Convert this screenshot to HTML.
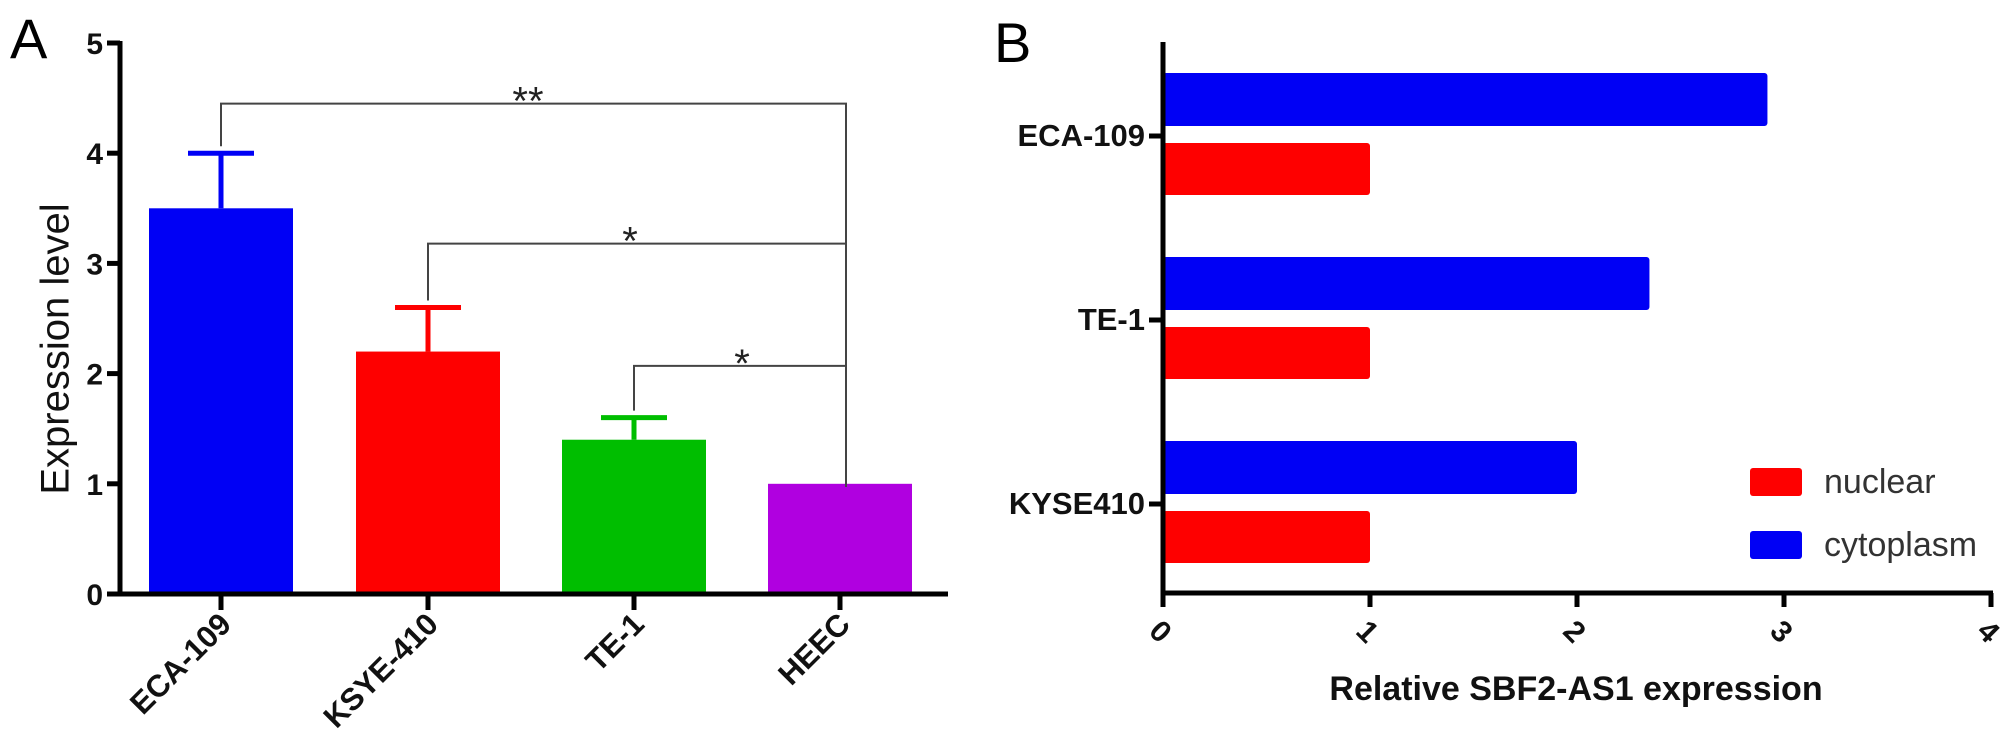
<!DOCTYPE html>
<html><head><meta charset="utf-8"><style>
html,body{margin:0;padding:0;background:#fff;}
svg{display:block;font-family:"Liberation Sans",Arial,sans-serif;}
</style></head><body>
<svg id="fig" width="2008" height="748" viewBox="0 0 2008 748"></svg>
<script>
const aCategories = ["ECA-109","KSYE-410","TE-1","HEEC"];
const aValues = [3.5, 2.2, 1.4, 1.0];
const aErrors = [0.5, 0.4, 0.2, 0];
const aColors = ["#0000f5","#fe0000","#00be00","#b000e0"];
const aTicks = [0,1,2,3,4,5];
const bCategories = ["ECA-109","TE-1","KYSE410"];
const bCytoplasm = [2.92, 2.35, 2.0];
const bNuclear = [1.0, 1.0, 1.0];
const bTicks = [0,1,2,3,4];

const NS="http://www.w3.org/2000/svg";
const svg=document.getElementById('fig');
function mk(tag,attrs,parent){const e=document.createElementNS(NS,tag);for(const k in attrs)e.setAttribute(k,attrs[k]);(parent||svg).appendChild(e);return e;}

// Panel A
const ay0=594, aUnit=110.2, aAxisX=120;
const ay=v=>ay0-v*aUnit;
const aBarX=[149,356,562,768], aBarW=144;
const aCx=i=>aBarX[i]+aBarW/2;

let t=mk('text',{x:10,y:58,'font-size':56});t.textContent='A';



aCategories.forEach((c,i)=>{
  const r=mk('rect',{x:aBarX[i],y:ay(aValues[i]),width:aBarW,height:ay0-ay(aValues[i]),fill:aColors[i]});
  
  
  if(aErrors[i]>0){
    const g=mk('g',{stroke:aColors[i],'stroke-width':5});
    
    
    mk('line',{x1:aCx(i),x2:aCx(i),y1:ay(aValues[i]),y2:ay(aValues[i]+aErrors[i])},g);
    mk('line',{x1:aCx(i)-33,x2:aCx(i)+33,y1:ay(aValues[i]+aErrors[i]),y2:ay(aValues[i]+aErrors[i])},g);
  }
  const tk=mk('line',{x1:aCx(i),x2:aCx(i),y1:ay0,y2:ay0+16,stroke:'#000','stroke-width':5});
  
  
  const lx=aCx(i)+12, lyy=ay0+32;
  const lb=mk('text',{x:lx,y:lyy,'font-size':31,'font-weight':'bold','text-anchor':'end',fill:'#111',transform:`rotate(-45 ${lx} ${lyy})`});
  lb.textContent=c;
  
  
});
let ax=mk('line',{x1:aAxisX,x2:aAxisX,y1:ay(5)-2,y2:ay0+2,stroke:'#000','stroke-width':5});


ax=mk('line',{x1:aAxisX-12,x2:948,y1:ay0,y2:ay0,stroke:'#000','stroke-width':5});


aTicks.forEach(v=>{
  const l=mk('line',{x1:aAxisX-13,x2:aAxisX,y1:ay(v),y2:ay(v),stroke:'#000','stroke-width':5});
  
  
  const tx=mk('text',{x:aAxisX-17,y:ay(v)+11,'font-size':30,'font-weight':'bold','text-anchor':'end',fill:'#111'});
  tx.textContent=v;
  
  
});
t=mk('text',{x:58,y:349,'font-size':40,'text-anchor':'middle','dominant-baseline':'middle',fill:'#111',transform:'rotate(-90 58 349)'});
t.textContent='Expression level';


// brackets: [category index, bracket value, stars, right drop end, star x]
const brackets=[[0,4.45,'**',246,528],[1,3.18,'*',374,630],[2,2.07,'*',487,742]];
brackets.forEach(b=>{
  const i=b[0], yb=ay(b[1]), left=aCx(i), right=846;
  const p=mk('path',{d:`M${left} ${ay(aValues[i]+aErrors[i])-7} V${yb} H${right} V${b[3]}`,fill:'none',stroke:'#444','stroke-width':2});
  
  
  const s=mk('text',{x:b[4],y:yb+11,'font-size':40,'text-anchor':'middle',fill:'#222'});
  s.textContent=b[2];
  
  
});

// Panel B
const bx0=1163, bUnit=207, bAxisBottom=593;
const bx=v=>bx0+v*bUnit;
const bCatY=[136,320,504];
t=mk('text',{x:994,y:62,'font-size':56});t.textContent='B';


bCategories.forEach((c,i)=>{
  const r1=mk('rect',{x:bx0,y:bCatY[i]-63,width:bx(bCytoplasm[i])-bx0,height:53,fill:'#0000f5',rx:3});
  
  
  const r2=mk('rect',{x:bx0,y:bCatY[i]+7,width:bx(bNuclear[i])-bx0,height:52,fill:'#fe0000',rx:3});
  
  
  const tk=mk('line',{x1:bx0-14,x2:bx0,y1:bCatY[i],y2:bCatY[i],stroke:'#000','stroke-width':5});
  
  
  const lb=mk('text',{x:bx0-18,y:bCatY[i]+10,'font-size':31,'font-weight':'bold','text-anchor':'end',fill:'#111'});
  lb.textContent=c;
  
  
});
ax=mk('line',{x1:bx0,x2:bx0,y1:42,y2:bAxisBottom+2,stroke:'#000','stroke-width':5});


ax=mk('line',{x1:bx0-2,x2:bx(4)+2,y1:bAxisBottom,y2:bAxisBottom,stroke:'#000','stroke-width':5});


bTicks.forEach(v=>{
  const l=mk('line',{x1:bx(v),x2:bx(v),y1:bAxisBottom,y2:bAxisBottom+14,stroke:'#000','stroke-width':5});
  
  
  const cx=bx(v)-4, cy=bAxisBottom+40;
  const tx=mk('text',{x:cx,y:cy,'font-size':30,'font-weight':'bold','text-anchor':'middle','dominant-baseline':'middle',fill:'#111',transform:`rotate(45 ${cx} ${cy})`});
  tx.textContent=v;
  
  
});
t=mk('text',{x:1576,y:700,'font-size':34,'font-weight':'bold','text-anchor':'middle',fill:'#111'});
t.textContent='Relative SBF2-AS1 expression';


const lg=mk('g',{});


[['nuclear','#fe0000',468],['cytoplasm','#0000f5',531]].forEach(e=>{
  const g=mk('g',{},lg);
  
  
  mk('rect',{x:1750,y:e[2],width:52,height:28,fill:e[1],rx:3},g);
  const tx=mk('text',{x:1824,y:e[2]+25,'font-size':34,fill:'#333'},g);
  tx.textContent=e[0];
});
</script>
</body></html>
